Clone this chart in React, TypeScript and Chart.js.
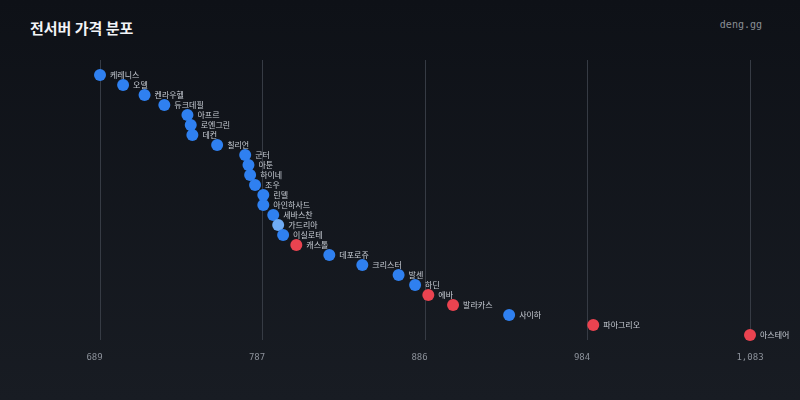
import React, { useEffect, useRef } from 'react';
import { Chart, registerables } from 'chart.js';

Chart.register(...registerables);

// 서버별 가격 (위에서 아래 순서)
const servers = [
  '케레니스', '오델', '켄라우헬', '듀크데필', '아프르', '로엔그린', '데컨', '칠리언', '군터',
  '아툰', '하이네', '조우', '린델', '아인하사드', '세바스찬', '가드리아', '이실로테', '캐스톨',
  '데포로쥬', '크리스터', '발센', '하딘', '에바', '발라카스', '사이하', '파아그리오', '아스테어',
];
const prices = [
  689, 703, 716, 728, 742, 744, 745, 760, 777,
  779, 780, 783, 788, 788, 794, 797, 800, 808,
  828, 848, 870, 880, 888, 903, 937, 988, 1083,
];
// b = 기본, l = 밝은 파랑, r = 빨강
const groups = [
  'b', 'b', 'b', 'b', 'b', 'b', 'b', 'b', 'b',
  'b', 'b', 'b', 'b', 'b', 'b', 'l', 'b', 'r',
  'b', 'b', 'b', 'b', 'r', 'r', 'b', 'r', 'r',
];
const tickValues = [689, 787.5, 886, 984.5, 1083];
const tickLabels = ['689', '787', '886', '984', '1,083'];

const colorOf: Record<string, string> = { b: '#2f80f0', l: '#6fabf4', r: '#ea4350' };

const pointLabels = {
  id: 'pointLabels',
  afterDatasetsDraw(chart: Chart) {
    const ctx = chart.ctx;
    const meta = chart.getDatasetMeta(0);
    ctx.save();
    ctx.font = '8px "Noto Sans CJK KR", "Noto Sans", sans-serif';
    ctx.fillStyle = '#c8cdd5';
    ctx.textBaseline = 'middle';
    ctx.textAlign = 'left';
    meta.data.forEach((pt, i) => {
      ctx.fillText(servers[i], pt.x + 10, pt.y);
    });
    ctx.restore();
  },
};

const App: React.FC = () => {
  const canvasRef = useRef<HTMLCanvasElement>(null);

  useEffect(() => {
    document.body.style.margin = '0';
    if (!canvasRef.current) return;
    const chart = new Chart(canvasRef.current, {
      type: 'scatter',
      data: {
        datasets: [{
          data: prices.map((p, i) => ({ x: p, y: i })),
          clip: false,
          pointRadius: 6,
          pointHoverRadius: 6,
          pointBorderWidth: 0,
          pointBackgroundColor: groups.map(g => colorOf[g]),
        }],
      },
      options: {
        animation: false,
        responsive: false,
        events: [],
        layout: { padding: { left: 100, right: 50, top: 60, bottom: 0 } },
        plugins: { legend: { display: false }, tooltip: { enabled: false } },
        scales: {
          x: {
            type: 'linear',
            min: 689,
            max: 1083,
            border: { display: false },
            grid: { color: '#363b44', lineWidth: 1, drawTicks: false },
            afterBuildTicks: (axis: any) => {
              axis.ticks = tickValues.map(v => ({ value: v }));
            },
            afterFit: (axis: any) => { axis.height = 60; },
            ticks: {
              align: 'center',
              padding: 12,
              color: '#8b9099',
              font: { family: '"DejaVu Sans Mono", monospace', size: 9 },
              // pad to a fixed width so short labels sit just left of the grid line
              callback: (_v: any, i: number) => tickLabels[i].padEnd(5, ' '),
            },
          },
          y: {
            type: 'linear',
            display: false,
            reverse: true,
            min: -1.5,
            max: 26.5,
          },
        },
      },
      plugins: [pointLabels],
    });
    return () => chart.destroy();
  }, []);

  return (
    <div style={{
      position: 'relative', width: 800, height: 400,
      background: 'linear-gradient(to bottom, #0e1117, #181c23)',
    }}>
      <div style={{
        position: 'absolute', left: 30, top: 17, color: '#f2f4f7',
        font: 'bold 15px "Noto Sans CJK KR", sans-serif', lineHeight: '22px',
      }}>전서버 가격 분포</div>
      <div style={{
        position: 'absolute', right: 38, top: 18, color: '#8a8e95',
        font: '10px "DejaVu Sans Mono", monospace', lineHeight: '14px',
      }}>deng.gg</div>
      <canvas ref={canvasRef} width={800} height={400}
        style={{ position: 'absolute', left: 0, top: 0 }} />
    </div>
  );
};

export default App;
